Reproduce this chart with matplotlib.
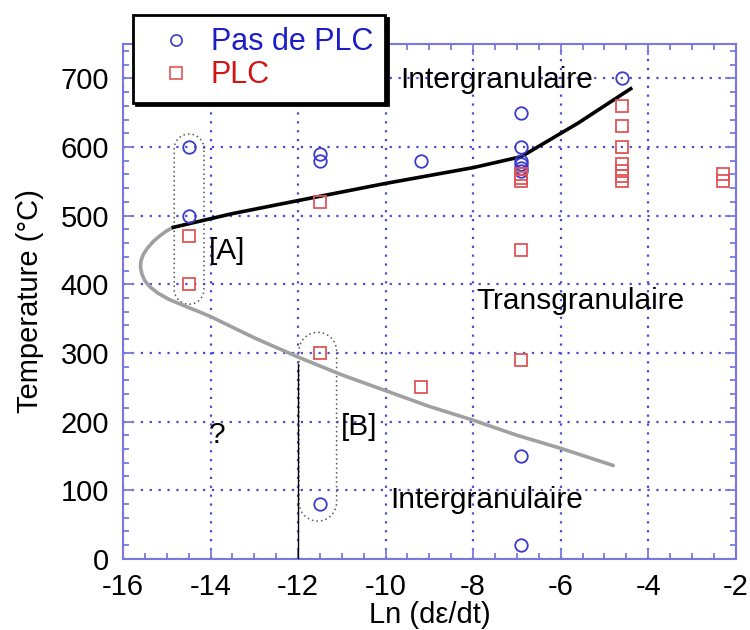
import numpy as np
import matplotlib.pyplot as plt
from matplotlib.lines import Line2D
from matplotlib.ticker import MultipleLocator

plt.rcParams['font.family'] = ['Liberation Sans', 'DejaVu Sans']
plt.rcParams['axes.unicode_minus'] = False

# Essais sans PLC (cercles)
x_sans = [-14.5, -14.5, -11.5, -11.5, -11.5, -9.2, -6.9, -6.9, -6.9, -6.9, -6.9, -6.9, -6.9, -6.9, -4.6]
t_sans = [600, 500, 590, 580, 80, 580, 650, 600, 580, 575, 570, 565, 150, 20, 700]

# Essais avec PLC (carres)
x_plc = [-14.5, -14.5, -11.5, -11.5, -9.2, -6.9, -6.9, -6.9, -6.9, -6.9,
         -4.6, -4.6, -4.6, -4.6, -4.6, -4.6, -4.6, -2.3, -2.3]
t_plc = [470, 400, 520, 300, 250, 560, 555, 550, 450, 290,
         660, 630, 600, 575, 565, 558, 550, 560, 550]

# Frontiere superieure (noire)
x_haut = [-14.85, -13.5, -12.0, -10.0, -8.0, -6.9, -5.6, -4.4]
t_haut = [483, 503, 522, 547, 570, 586, 635, 685]

# Frontiere inferieure (grise)
x_bas = [-14.85, -15.0, -15.15, -15.3, -15.45, -15.54, -15.59, -15.6, -15.57, -15.5,
         -15.38, -15.2, -14.95, -14.65, -14.3, -14.0,
         -13.0, -12.0, -11.0, -10.0, -9.0, -8.0, -7.0, -6.0, -4.8]
t_bas = [483, 478, 471, 463, 452, 443, 434, 425, 415, 405,
         396, 387, 378, 370, 361, 353,
         322, 294, 268, 245, 222, 202, 180, 161, 136]

# Zones [A] et [B] : (x centre, demi-largeur, t bas, t haut)
zone_a = (-14.49, 0.34, 371, 619)
zone_b = (-11.55, 0.43, 55, 330)

bleu = '#3a3acc'
rouge = '#e05555'
axe = '#7878e0'

fig = plt.figure(figsize=(7.5, 6.3), dpi=100)
ax = fig.add_axes([0.164, 0.113, 0.817, 0.817])

ax.set_xlim(-16, -2)
ax.set_ylim(0, 750)
ax.xaxis.set_major_locator(MultipleLocator(2))
ax.xaxis.set_minor_locator(MultipleLocator(0.5))
ax.yaxis.set_major_locator(MultipleLocator(100))
ax.yaxis.set_minor_locator(MultipleLocator(20))
ax.set_yticks(range(0, 701, 100))

ax.grid(True, which='major', color='#4a4ad0', linestyle=(0, (1, 3)), linewidth=1.6)
for s in ax.spines.values():
    s.set_color(axe)
    s.set_linewidth(1.5)
ax.tick_params(which='both', direction='in', top=True, right=True, color=axe, width=1.3,
               labelsize=21)
ax.tick_params(which='major', length=8, pad=10)
ax.tick_params(which='minor', length=4)

ax.set_xlabel('Ln (d\u03b5/dt)', fontsize=21, labelpad=0)
ax.set_ylabel('Temperature (\u00b0C)', fontsize=21, labelpad=12)

# frontieres
ax.plot(x_bas, t_bas, color='#a0a0a0', lw=2.6, solid_capstyle='round', zorder=3)
ax.plot(x_haut, t_haut, color='black', lw=2.6, zorder=4)
ax.plot([-12, -12], [0, 284], color='black', lw=1, zorder=3)

# zones pointillees (forme de stade, bouts arrondis en pixels)
px_x = 43.75
px_t = 0.69
for xc, dx, t0, t1 in (zone_a, zone_b):
    r = dx * px_x / px_t
    th = np.linspace(0, np.pi, 60)
    haut_x = xc + dx * np.cos(th)
    haut_t = t1 - r + r * np.sin(th)
    bas_x = xc - dx * np.cos(th)
    bas_t = t0 + r - r * np.sin(th)
    xs = np.concatenate([haut_x, bas_x, haut_x[:1]])
    ts = np.concatenate([haut_t, bas_t, haut_t[:1]])
    ax.plot(xs, ts, color='#555555', lw=1.1, linestyle=(0, (1, 2)), zorder=2)

ax.plot(x_sans, t_sans, linestyle='none', marker='o', markersize=9, markerfacecolor='none',
        markeredgecolor=bleu, markeredgewidth=1.3, zorder=5)
ax.plot(x_plc, t_plc, linestyle='none', marker='s', markersize=8.5, markerfacecolor='none',
        markeredgecolor=rouge, markeredgewidth=1.3, zorder=5)

ax.text(-7.46, 697, 'Intergranulaire', fontsize=21.5, ha='center', va='center', zorder=6)
ax.text(-5.55, 375, 'Transgranulaire', fontsize=21.5, ha='center', va='center', zorder=6)
ax.text(-7.68, 85, 'Intergranulaire', fontsize=21.5, ha='center', va='center', zorder=6)
ax.text(-13.62, 448, '[A]', fontsize=21.5, ha='center', va='center', zorder=6)
ax.text(-10.6, 192, '[B]', fontsize=21.5, ha='center', va='center', zorder=6)
ax.text(-13.84, 180, '?', fontsize=21.5, ha='center', va='center', zorder=6)

poignees = [Line2D([], [], linestyle='none', marker='o', markersize=8, markerfacecolor='none',
                   markeredgecolor=bleu, markeredgewidth=1.2),
            Line2D([], [], linestyle='none', marker='s', markersize=8, markerfacecolor='none',
                   markeredgecolor=rouge, markeredgewidth=1.2)]
leg = fig.legend(poignees, ['Pas de PLC', 'PLC'], loc='upper left',
                 bbox_to_anchor=(0.177, 0.976), fontsize=22, frameon=True, fancybox=False,
                 shadow={'color': 'black', 'alpha': 1}, edgecolor='black',
                 handlelength=2.0, handletextpad=0.15, borderpad=0.4, labelspacing=0.1,
                 borderaxespad=0)
leg.get_frame().set_linewidth(2)
leg.set_zorder(10)
leg.get_texts()[0].set_color('#1c1cc8')
leg.get_texts()[1].set_color('#d41414')

fig.savefig('out.png', dpi=100)
